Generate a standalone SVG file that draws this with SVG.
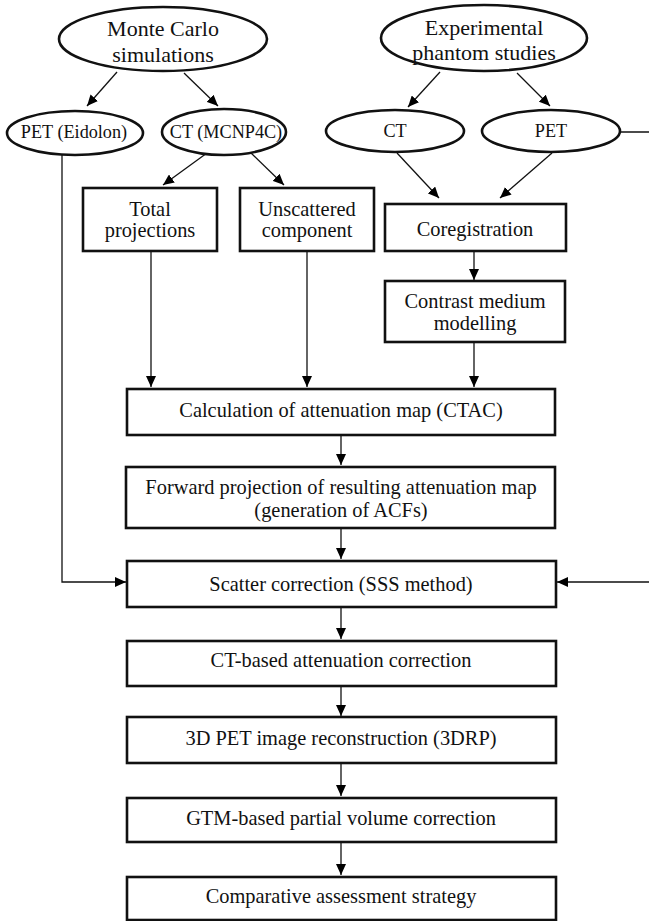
<svg xmlns="http://www.w3.org/2000/svg" width="649" height="921" viewBox="0 0 649 921">
<defs>
<marker id="ah" markerUnits="userSpaceOnUse" markerWidth="11" markerHeight="10" refX="11" refY="5" orient="auto">
<path d="M0,0 L11,5 L0,10 z" fill="#000"/>
</marker>
<style>
.n{fill:#fff;stroke:#111;stroke-width:2.6}
.t{font-family:"Liberation Serif","Times New Roman",serif;font-size:20.4px;fill:#111;text-anchor:middle}
.tl{font-family:"Liberation Serif","Times New Roman",serif;font-size:22px;fill:#111;text-anchor:middle}
.ts{font-family:"Liberation Serif","Times New Roman",serif;font-size:18.2px;fill:#111;text-anchor:middle}
.c{fill:none;stroke:#111;stroke-width:1.3}
.a{marker-end:url(#ah)}
</style>
</defs>
<rect width="649" height="921" fill="#fff"/>
<g id="connectors">
<path class="c a" d="M117,72 L87,106"/>
<path class="c a" d="M184,73 L218,106"/>
<path class="c a" d="M440,72 L408,107"/>
<path class="c a" d="M517,73 L550,106"/>
<path class="c a" d="M207,153 L163,185"/>
<path class="c a" d="M251,153 L284,185"/>
<path class="c a" d="M397,153 L439,198"/>
<path class="c a" d="M552,153 L500,198"/>
<path class="c a" d="M151,251 L151,387"/>
<path class="c a" d="M307,251 L307,387"/>
<path class="c a" d="M474,251 L474,280"/>
<path class="c a" d="M474,342 L474,387"/>
<path class="c a" d="M341,435 L341,465"/>
<path class="c a" d="M341,528 L341,559"/>
<path class="c a" d="M62,155 V582 H126"/>
<path class="c a" d="M620,132 H670 V582 H557"/>
<path class="c a" d="M341,607 V639"/>
<path class="c a" d="M341,686 V716"/>
<path class="c a" d="M341,763 V796"/>
<path class="c a" d="M341,842 V875"/>
</g>
<g id="monte-carlo">
<ellipse class="n" cx="163" cy="39" rx="104" ry="32"/>
<text class="tl" x="163" y="36">Monte Carlo</text>
<text class="tl" x="163" y="62">simulations</text>
</g>
<g id="experimental">
<ellipse class="n" cx="484" cy="38" rx="103" ry="33"/>
<text class="tl" x="484" y="35">Experimental</text>
<text class="tl" x="484" y="60">phantom studies</text>
</g>
<g id="pet-eidolon">
<ellipse class="n" cx="75" cy="133" rx="68" ry="22"/>
<text class="ts" x="74" y="138">PET (Eidolon)</text>
</g>
<g id="ct-mcnp4c">
<ellipse class="n" cx="224" cy="132" rx="62" ry="23"/>
<text class="ts" x="226" y="138">CT (MCNP4C)</text>
</g>
<g id="ct-exp">
<ellipse class="n" cx="395" cy="131" rx="69" ry="21"/>
<text class="ts" x="395" y="137">CT</text>
</g>
<g id="pet-exp">
<ellipse class="n" cx="551" cy="131" rx="69" ry="21"/>
<text class="ts" x="551" y="137">PET</text>
</g>
<g id="total-projections">
<rect class="n" x="83" y="188" width="134" height="63"/>
<text class="t" x="150" y="216">Total</text>
<text class="t" x="150" y="237">projections</text>
</g>
<g id="unscattered">
<rect class="n" x="240" y="188" width="134" height="63"/>
<text class="t" x="307" y="216">Unscattered</text>
<text class="t" x="307" y="237">component</text>
</g>
<g id="coregistration">
<rect class="n" x="385" y="204" width="181" height="47"/>
<text class="t" x="475" y="236">Coregistration</text>
</g>
<g id="contrast">
<rect class="n" x="385" y="281" width="180" height="61"/>
<text class="t" x="475" y="308">Contrast medium</text>
<text class="t" x="475" y="330">modelling</text>
</g>
<g id="ctac">
<rect class="n" x="127" y="389" width="428" height="46"/>
<text class="t" x="341" y="417">Calculation of attenuation map (CTAC)</text>
</g>
<g id="forward">
<rect class="n" x="126" y="467" width="429" height="61"/>
<text class="t" x="341" y="494">Forward projection of resulting attenuation map</text>
<text class="t" x="341" y="517">(generation of ACFs)</text>
</g>
<g id="scatter">
<rect class="n" x="127" y="561" width="429" height="46"/>
<text class="t" x="341" y="591">Scatter correction (SSS method)</text>
</g>
<g id="ctac-correction">
<rect class="n" x="127" y="641" width="429" height="45"/>
<text class="t" x="341" y="667">CT-based attenuation correction</text>
</g>
<g id="recon">
<rect class="n" x="127" y="717" width="429" height="46"/>
<text class="t" x="341" y="745">3D PET image reconstruction (3DRP)</text>
</g>
<g id="pvc">
<rect class="n" x="127" y="798" width="429" height="44"/>
<text class="t" x="341" y="825">GTM-based partial volume correction</text>
</g>
<g id="assessment">
<rect class="n" x="127" y="877" width="429" height="43"/>
<text class="t" x="341" y="903">Comparative assessment strategy</text>
</g>
</svg>
